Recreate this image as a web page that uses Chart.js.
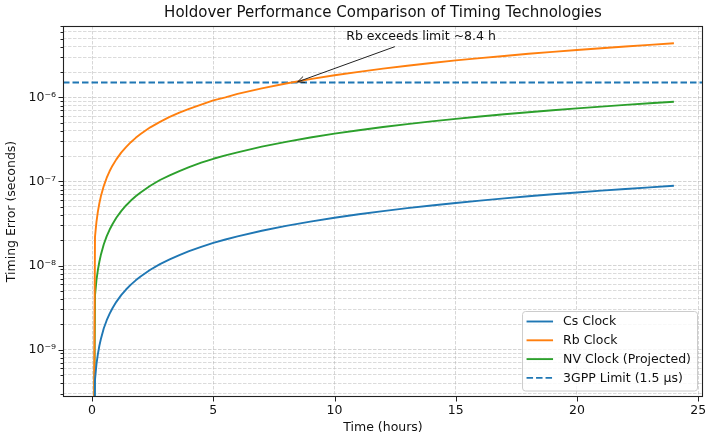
<!DOCTYPE html>
<html><head><meta charset="utf-8">
<script src="https://cdn.jsdelivr.net/npm/chart.js@4.4.0/dist/chart.umd.min.js"></script>
<style>html,body{margin:0;padding:0;background:#fff}#wrap{width:713px;height:437px}</style>
</head><body><div id="wrap"><canvas id="c" width="713" height="437"></canvas></div>
<script>
// ---- data ----
const hours   = [0, 0.12, 0.18, 0.24, 0.3, 0.36, 0.48, 0.6, 0.72, 0.84, 1, 1.2, 1.4, 1.6, 1.8, 2, 2.4, 2.8, 3.2, 3.6, 4, 4.5, 5, 5.5, 6, 7, 8, 9, 10, 11, 12, 13, 14, 15, 16, 17, 18, 19, 20, 21, 22, 23, 24];
const csError = [0, 4.4e-10, 6.7e-10, 8.9e-10, 1.11e-9, 1.33e-9, 1.78e-9, 2.22e-9, 2.66e-9, 3.1e-9, 3.7e-9, 4.44e-9, 5.18e-9, 5.92e-9, 6.66e-9, 7.4e-9, 8.9e-9, 1.04e-8, 1.18e-8, 1.33e-8, 1.48e-8, 1.67e-8, 1.86e-8, 2.04e-8, 2.22e-8, 2.59e-8, 2.96e-8, 3.33e-8, 3.7e-8, 4.07e-8, 4.44e-8, 4.81e-8, 5.18e-8, 5.55e-8, 5.92e-8, 6.29e-8, 6.66e-8, 7.03e-8, 7.4e-8, 7.77e-8, 8.14e-8, 8.51e-8, 8.87e-8];
const rbError = [0, 2.2e-8, 3.3e-8, 4.4e-8, 5.5e-8, 6.6e-8, 8.8e-8, 1.1e-7, 1.32e-7, 1.54e-7, 1.83e-7, 2.2e-7, 2.56e-7, 2.93e-7, 3.3e-7, 3.66e-7, 4.4e-7, 5.1e-7, 5.86e-7, 6.6e-7, 7.3e-7, 8.2e-7, 9.2e-7, 1.0e-6, 1.1e-6, 1.28e-6, 1.46e-6, 1.65e-6, 1.83e-6, 2.01e-6, 2.2e-6, 2.38e-6, 2.56e-6, 2.75e-6, 2.93e-6, 3.11e-6, 3.3e-6, 3.48e-6, 3.66e-6, 3.84e-6, 4.03e-6, 4.21e-6, 4.4e-6];
const nvError = [0, 4.4e-9, 6.7e-9, 8.9e-9, 1.11e-8, 1.33e-8, 1.78e-8, 2.22e-8, 2.66e-8, 3.1e-8, 3.7e-8, 4.44e-8, 5.18e-8, 5.92e-8, 6.66e-8, 7.4e-8, 8.9e-8, 1.04e-7, 1.18e-7, 1.33e-7, 1.48e-7, 1.67e-7, 1.86e-7, 2.04e-7, 2.22e-7, 2.59e-7, 2.96e-7, 3.33e-7, 3.7e-7, 4.07e-7, 4.44e-7, 4.81e-7, 5.18e-7, 5.55e-7, 5.92e-7, 6.29e-7, 6.66e-7, 7.03e-7, 7.4e-7, 7.77e-7, 8.14e-7, 8.51e-7, 8.87e-7];
const limitValue = 1.5e-6;
const seriesLabels = ['Cs Clock', 'Rb Clock', 'NV Clock (Projected)', '3GPP Limit (1.5 μs)'];
const xTickValues = [0, 5, 10, 15, 20, 25];
const yMajorTicks = [1e-9, 1e-8, 1e-7, 1e-6];
const yTickLabels = ['10⁻⁹', '10⁻⁸', '10⁻⁷', '10⁻⁶'];
const xRange = [-1.2, 25.2];
const yRange = [2.73e-10, 7.06e-6];
const titleText = 'Holdover Performance Comparison of Timing Technologies';
const annotationText = 'Rb exceeds limit ~8.4 h';
const annotationTarget = {x: 8.4, y: 1.5e-6};
const annotationTextAt = {x: 13.57, y: 5.2e-6};

// ---- styles ----
const FONT = 'DejaVu Sans';
const FS = 12.5;
const colors = ['#1f77b4', '#ff7f0e', '#2ca02c', '#1f77b4'];
Chart.defaults.font.family = FONT;
Chart.defaults.color = '#111';
// a zero error cannot sit on a log axis; like matplotlib, clip it far below the visible range
const LOG_FLOOR = 1e-14;

const toXY = (ys) => hours.map((h, i) => ({x: h, y: ys[i] > 0 ? ys[i] : LOG_FLOOR}));

const decor = {
  id: 'decor',
  afterDraw(chart) {
    const {ctx, chartArea: a, scales: {x, y}} = chart;
    ctx.save();
    const line = (x1, y1, x2, y2) => { ctx.beginPath(); ctx.moveTo(x1, y1); ctx.lineTo(x2, y2); ctx.stroke(); };
    // title centred over the plot area
    ctx.font = '15px "' + FONT + '"';
    ctx.fillStyle = '#111'; ctx.textAlign = 'center'; ctx.textBaseline = 'middle';
    ctx.fillText(titleText, (a.left + a.right) / 2, 13.5);
    // tick marks
    ctx.strokeStyle = '#222'; ctx.lineWidth = 1;
    x.ticks.forEach(t => { const px = Math.round(x.getPixelForValue(t.value)) + 0.5; line(px, a.bottom, px, a.bottom + 4.5); });
    y.ticks.forEach(t => { const py = Math.round(y.getPixelForValue(t.value)) + 0.5; const len = t.major ? 4.5 : 2.5; line(a.left - len, py, a.left, py); });
    // frame
    ctx.strokeStyle = '#222'; ctx.lineWidth = 1.1;
    ctx.strokeRect(a.left + 0.5, a.top + 0.5, a.right - a.left - 1, a.bottom - a.top - 1);

    // annotation
    ctx.font = FS + 'px "' + FONT + '"';
    const cx = x.getPixelForValue(annotationTextAt.x), cy = y.getPixelForValue(annotationTextAt.y);
    const tx = x.getPixelForValue(annotationTarget.x), ty = y.getPixelForValue(annotationTarget.y);
    ctx.fillStyle = '#111'; ctx.textAlign = 'center'; ctx.textBaseline = 'middle';
    ctx.fillText(annotationText, cx, cy);
    const tw = ctx.measureText(annotationText).width;
    const hw = tw / 2 + 2, hh = 9.5;
    const dx = tx - cx, dy = ty - cy;
    const s = Math.min(hw / Math.abs(dx), hh / Math.abs(dy));
    const sx = cx + dx * s, sy = cy + dy * s;
    const L = Math.hypot(tx - sx, ty - sy);
    const ux = (tx - sx) / L, uy = (ty - sy) / L;
    const ex = tx - ux * 2, ey = ty - uy * 2;
    ctx.strokeStyle = '#222'; ctx.lineWidth = 1;
    line(sx, sy, ex, ey);
    const hl = 7, hwid = 3.2;
    line(ex, ey, ex - ux * hl - uy * hwid, ey - uy * hl + ux * hwid);
    line(ex, ey, ex - ux * hl + uy * hwid, ey - uy * hl - ux * hwid);

    // legend
    ctx.font = FS + 'px "' + FONT + '"';
    ctx.textAlign = 'left';
    let maxW = 0; seriesLabels.forEach(l => { maxW = Math.max(maxW, ctx.measureText(l).width); });
    const bw = 41 + maxW + 6, bh = 79.5;
    const bx = a.right - 6 - bw, by = a.bottom - 6.5 - bh;
    ctx.beginPath();
    if (ctx.roundRect) ctx.roundRect(bx + 0.5, by + 0.5, bw, bh, 3); else ctx.rect(bx + 0.5, by + 0.5, bw, bh);
    ctx.fillStyle = 'rgba(255,255,255,0.8)'; ctx.fill();
    ctx.strokeStyle = '#cccccc'; ctx.lineWidth = 1; ctx.stroke();
    seriesLabels.forEach((l, i) => {
      const ry = by + 10.5 + i * 18.8;
      ctx.strokeStyle = colors[i]; ctx.lineWidth = 1.9;
      ctx.setLineDash(i === 3 ? [6.5, 3] : []);
      line(bx + 4.5, ry, bx + 31, ry);
      ctx.setLineDash([]);
      ctx.fillStyle = '#111'; ctx.textBaseline = 'middle';
      ctx.fillText(l, bx + 41, ry + 0.5);
    });
    ctx.restore();
  }
};

new Chart(document.getElementById('c'), {
  type: 'line',
  data: {
    datasets: [
      {label: seriesLabels[0], data: toXY(csError), borderColor: colors[0]},
      {label: seriesLabels[1], data: toXY(rbError), borderColor: colors[1]},
      {label: seriesLabels[2], data: toXY(nvError), borderColor: colors[2]},
      {label: seriesLabels[3], data: [{x: xRange[0], y: limitValue}, {x: xRange[1], y: limitValue}], borderColor: colors[3], borderDash: [6.5, 3]}
    ]
  },
  options: {
    responsive: false,
    animation: false,
    devicePixelRatio: 1,
    layout: {padding: {left: 0, right: 10, top: 26, bottom: 0}},
    elements: {
      point: {radius: 0, hoverRadius: 0},
      line: {borderWidth: 1.9, tension: 0, fill: false, borderJoinStyle: 'round', borderCapStyle: 'butt'}
    },
    plugins: {
      legend: {display: false},
      tooltip: {enabled: false},
      title: {display: false}
    },
    scales: {
      x: {
        type: 'linear',
        min: xRange[0], max: xRange[1],
        afterBuildTicks: (axis) => { axis.ticks = xTickValues.map(v => ({value: v, major: true})); },
        afterFit: (axis) => { axis.height = 40; },
        ticks: {font: {size: FS}, padding: 6, autoSkip: false, maxRotation: 0, color: '#111'},
        grid: {color: 'rgba(176,176,176,0.5)', lineWidth: 1, drawTicks: false},
        border: {display: false, dash: [3.5, 1.5]},
        title: {display: true, text: 'Time (hours)', font: {size: FS}, color: '#111', padding: {top: 0, bottom: 1.5}}
      },
      y: {
        type: 'logarithmic',
        min: yRange[0], max: yRange[1],
        afterBuildTicks: (axis) => {
          const out = [];
          const e0 = Math.floor(Math.log10(yRange[0])), e1 = Math.ceil(Math.log10(yRange[1]));
          for (let e = e0; e <= e1; e++) {
            for (let m = 1; m <= 9; m++) {
              const v = m * Math.pow(10, e);
              if (v >= yRange[0] && v <= yRange[1]) out.push({value: v, major: m === 1});
            }
          }
          axis.ticks = out;
        },
        afterFit: (axis) => { axis.width = 63; },
        ticks: {
          font: {size: FS}, padding: 7, autoSkip: false, color: '#111',
          callback: (value, index, ticks) => {
            if (!ticks[index].major) return '';
            const k = yMajorTicks.findIndex(v => Math.abs(Math.log10(v) - Math.log10(value)) < 1e-6);
            return k >= 0 ? yTickLabels[k] : '';
          }
        },
        grid: {
          color: (c) => (c.tick && c.tick.major) ? 'rgba(176,176,176,0.55)' : 'rgba(176,176,176,0.45)',
          lineWidth: 1, drawTicks: false
        },
        border: {display: false, dash: [3.5, 1.5]},
        title: {display: true, text: 'Timing Error (seconds)', font: {size: FS}, color: '#111', padding: {top: 4.5, bottom: 0}}
      }
    }
  },
  plugins: [decor]
});
</script>
</body></html>
